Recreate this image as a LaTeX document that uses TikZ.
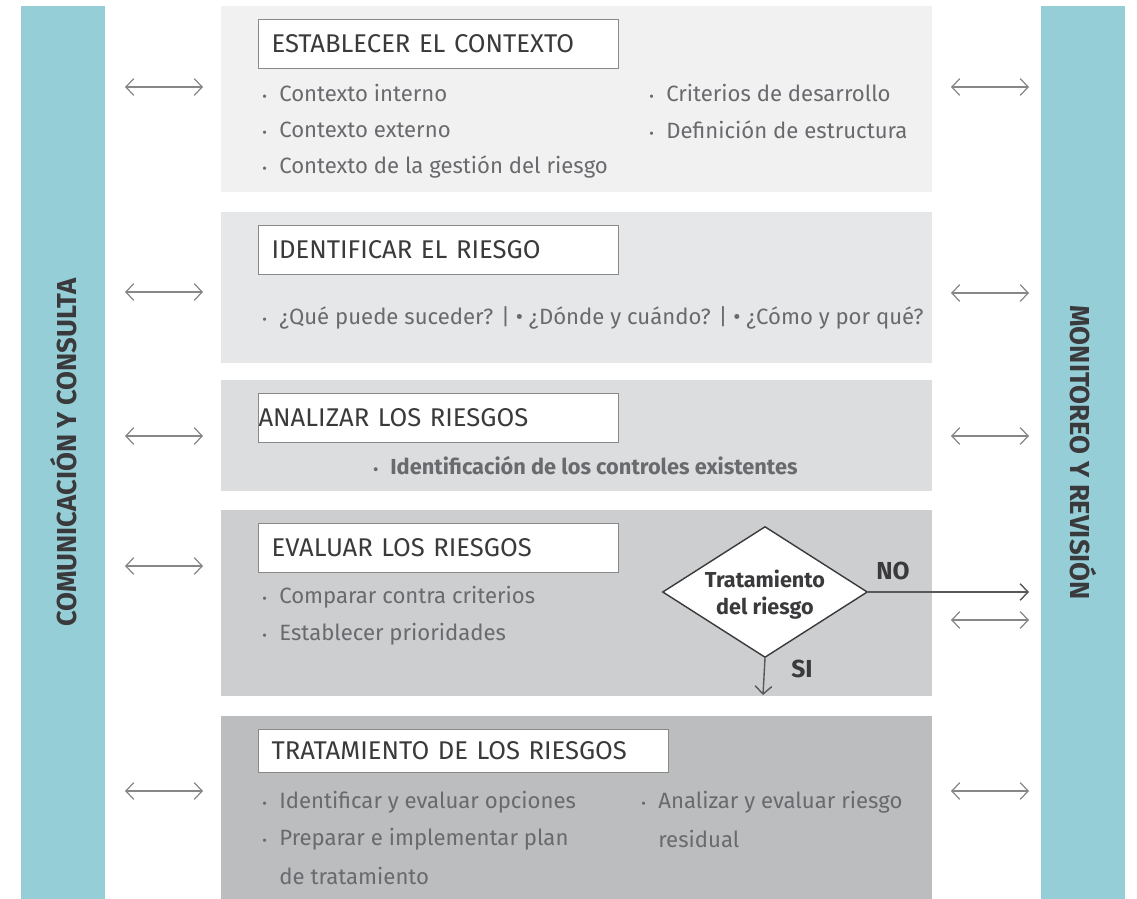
\documentclass[tikz,border=0pt]{standalone}
\usepackage{fontspec}
\setmainfont{Fira Sans}
\usetikzlibrary{arrows.meta,shapes.geometric,positioning}
\definecolor{turquesa}{RGB}{150,206,216}
\definecolor{banda1}{RGB}{241,241,241}
\definecolor{banda2}{RGB}{230,231,232}
\definecolor{banda3}{RGB}{220,221,222}
\definecolor{banda4}{RGB}{205,206,208}
\definecolor{banda5}{RGB}{188,189,191}
\definecolor{flecha}{RGB}{135,135,135}
\definecolor{texto}{RGB}{105,106,109}
\definecolor{titulo}{RGB}{58,58,60}
\colorlet{borde}{titulo!60}
\newcommand{\punto}{\makebox[0.34cm][l]{\footnotesize\textbullet}}

\tikzset{
    banda/.style={anchor=north west, inner sep=0pt, minimum width=14.22cm},
    barra/.style={anchor=north west, inner sep=0pt, fill=turquesa, minimum width=1.68cm, minimum height=17.86cm},
    caja/.style={draw=borde, fill=white, line width=0.6pt, anchor=north west, minimum height=0.98cm,
        inner xsep=0.26cm, inner ysep=0pt, text width=6.68cm, align=left, text=titulo,
        font=\fontsize{14.6}{17}\selectfont},
    item/.style={anchor=west, inner sep=0pt, text=texto, font=\fontsize{12.6}{15}\selectfont},
    vertical/.style={text=titulo, font=\fontsize{15.6}{18}\selectfont\bfseries},
    etiqueta/.style={text=titulo, font=\fontsize{14}{16}\selectfont\bfseries},
    flecha doble/.style={draw=flecha, line width=0.7pt,
        {Straight Barb[length=4.5pt,width=9.5pt]}-{Straight Barb[length=4.5pt,width=9.5pt]}},
    flecha simple/.style={draw=titulo!85, line width=0.8pt, -{Straight Barb[length=4.5pt,width=9.5pt]}},
}

\begin{document}
\begin{tikzpicture}[x=0.02cm, y=-0.02cm]

    \useasboundingbox (0,0) rectangle (1137,899);

    % bandas de fondo
    \foreach \n/\y/\h in {1/6/3.72, 2/212/3.02, 3/380/2.22, 4/510/3.72, 5/716/3.66}{
            \node[banda, fill=banda\n, minimum height=\h cm] (B\n) at (221,\y) {};
        }

    % barras laterales
    \node[barra] (CC) at (21,6) {};
    \node[barra] (MR) at (1041,6) {};
    \node[vertical, rotate=90] (cc) at (CC) {COMUNICACIÓN Y CONSULTA};
    \node[vertical, rotate=-90] (mr) at (MR) {MONITOREO Y REVISIÓN};

    % titulos
    \node[caja] (T1) at (258,19) {ESTABLECER EL CONTEXTO};
    \node[caja] (T2) at (258,225) {IDENTIFICAR EL RIESGO};
    \node[caja, inner xsep=0pt, text width=7.2cm] (T3) at (258,393) {ANALIZAR LOS RIESGOS};
    \node[caja] (T4) at (258,523) {EVALUAR LOS RIESGOS};
    \node[caja, text width=7.68cm, minimum height=0.86cm] (T5) at (258,729) {TRATAMIENTO DE LOS RIESGOS};

    % establecer el contexto
    \foreach \y/\t [count=\i] in {93/Contexto interno, 130/Contexto externo, 167/Contexto de la gestión del riesgo}{
            \node[item] (E\i) at (262,\y) {\punto\t};
        }
    \node[item] (E4) at (649,93) {\punto Criterios de desarrollo};
    \node[item] (E5) at (649,130) {\punto Definición de estructura};

    % identificar
    \node[item] (I1) at (262,318) {\punto¿Qué puede suceder? | • ¿Dónde y cuándo? | • ¿Cómo y por qué?};

    % analizar
    \node[item, font=\fontsize{12.4}{15}\selectfont\bfseries] (A1) at (373,466) {\punto Identificación de los controles existentes};

    % evaluar
    \node[item] (V1) at (262,597) {\punto Comparar contra criterios};
    \node[item] (V2) at (262,634) {\punto Establecer prioridades};

    % tratamiento
    \node[item] (R1) at (262,802) {\punto Identificar y evaluar opciones};
    \node[item] (R2) at (262,839) {\punto Preparar e implementar plan};
    \node[item] (R3) at (279,876) {de tratamiento};
    \node[item] (R4) at (641,802) {\punto Analizar y evaluar riesgo};
    \node[item] (R5) at (658,839) {residual};

    % decision
    \node[diamond, draw=titulo, fill=white, line width=0.8pt, inner sep=0pt, aspect=1.56,
        minimum width=4.1cm, minimum height=2.62cm, align=center, text depth=0pt,
        font=\fontsize{12.3}{15.5}\selectfont\bfseries, text=titulo] (D) at (765,592) {Tratamiento\\del riesgo};
    \coordinate (NOfin) at (1029,592);
    \coordinate (SIfin) at (763,695);
    \draw[flecha simple] (D.east) -- (NOfin);
    \draw[flecha simple] (D.south) -- (SIfin);
    \node[etiqueta] (NO) at (893,571) {NO};
    \node[etiqueta] (SI) at (802,669) {SI};

    % flechas de comunicacion
    \foreach \y [count=\i] in {87, 292, 436, 566, 791}{
            \coordinate (Ia\i) at (125,\y);
            \coordinate (Ib\i) at (203,\y);
            \draw[flecha doble] (Ia\i) -- (Ib\i);
        }
    \foreach \y [count=\i] in {87, 293, 436, 620, 791}{
            \coordinate (Da\i) at (951,\y);
            \coordinate (Db\i) at (1029,\y);
            \draw[flecha doble] (Da\i) -- (Db\i);
        }

\end{tikzpicture}
\end{document}
